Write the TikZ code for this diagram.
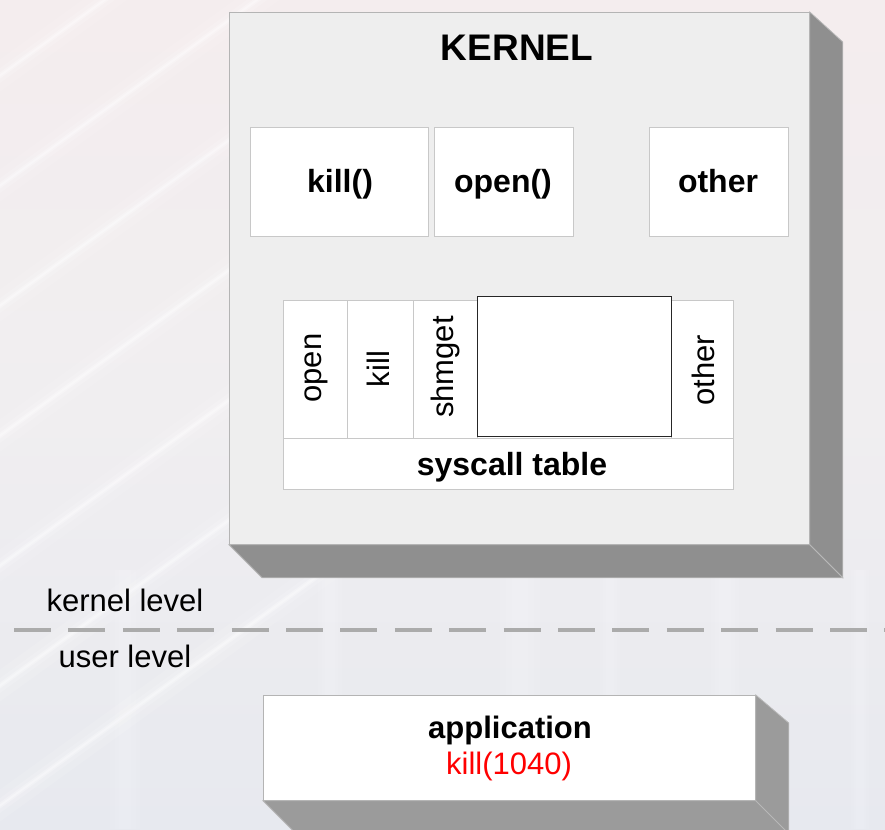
\documentclass[tikz,border=0pt]{standalone}
\usepackage{fontspec}
\setmainfont{Liberation Sans}
\usetikzlibrary{calc}
\definecolor{bgtop}{HTML}{F4EDEE}
\definecolor{bgmid}{HTML}{F0EEF0}
\definecolor{bgbot}{HTML}{E7E9EF}
\definecolor{kface}{HTML}{EEEEEE}
\definecolor{kedge}{HTML}{B4B4B4}
\definecolor{kside}{HTML}{8F8F8F}
\definecolor{aside}{HTML}{9B9B9B}
\definecolor{sideedge}{HTML}{B8B8B8}
\definecolor{cellline}{HTML}{C8C8C8}
\definecolor{dashgray}{HTML}{ABABAB}
\begin{document}
\begin{tikzpicture}[x=1pt,y=-1pt,
  box/.style={draw=kedge,line width=0.8pt,inner sep=0pt,anchor=north west},
  cell/.style={draw=cellline,fill=white,line width=0.8pt,inner sep=0pt,anchor=north west},
  sidekernel/.style={fill=kside,draw=sideedge,line width=0.8pt,line join=miter},
  sideapp/.style={fill=aside,draw=sideedge,line width=0.8pt,line join=miter},
  bigtitle/.style={font=\fontsize{37}{42}\selectfont\bfseries,anchor=base},
  boxlabel/.style={font=\fontsize{32}{38}\selectfont\bfseries,anchor=base},
  vlabel/.style={font=\fontsize{31}{36}\selectfont,rotate=90},
  plain/.style={font=\fontsize{31}{36}\selectfont,anchor=base},
  streak/.style={line cap=round,draw=white}
]
% page and background
\useasboundingbox (0,0) rectangle (885,829);
\shade[top color=bgtop,bottom color=bgbot,middle color=bgmid] (0,0) rectangle (885,829);
% soft diagonal light streaks
\begin{scope}
  \clip (0,0) rectangle (885,829);
  \foreach \b in {90, 200, 320, 450, 580, 700, 820}{
    \draw[streak,line width=26pt,opacity=0.10] (-20,\b) -- ++(360,-260);
    \draw[streak,line width=12pt,opacity=0.15] (-20,\b) -- ++(360,-260);
    \draw[streak,line width=5pt,opacity=0.25] (-20,\b) -- ++(360,-260);
    \draw[streak,line width=2pt,opacity=0.3] (-20,\b) -- ++(360,-260);
  }
\end{scope}
% faint vertical light bands below the kernel
\foreach \xx/\w in {125/30, 330/24, 520/40, 610/20, 725/28, 860/18}{
  \foreach \f in {1,0.7,0.4}{
    \fill[white,opacity=0.08] (\xx-\f*\w/2,570) rectangle (\xx+\f*\w/2,829);
  }
}

% kernel block with its depth
\node[box,fill=kface,minimum width=580pt,minimum height=532pt] (kernel) at (229,12) {};
\draw[sidekernel] (kernel.north east) -- ++(33,30) -- ($(kernel.south east)+(33,33)$) -- (kernel.south east) -- cycle;
\draw[sidekernel] (kernel.south west) -- (kernel.south east) -- ++(33,33) -- ($(kernel.south west)+(33,33)$) -- cycle;
\node[bigtitle] (ktitle) at (517,61) {KERNEL};

% handler boxes
\node[cell,minimum width=178pt,minimum height=109pt] (hkill) at (250,127) {};
\node[cell,minimum width=139pt,minimum height=109pt] (hopen) at (434,127) {};
\node[cell,minimum width=139pt,minimum height=109pt] (hother) at (649,127) {};
\node[boxlabel] (lkill) at (340,193) {kill()};
\node[boxlabel] (lopen) at (503,193) {open()};
\node[boxlabel] (lother) at (718,192) {other};

% syscall table
\node[cell,minimum width=64pt,minimum height=138pt] (topen) at (283,300) {};
\node[cell,minimum width=66pt,minimum height=138pt] (tkill) at (347,300) {};
\node[cell,minimum width=64pt,minimum height=138pt] (tshm) at (413,300) {};
\node[cell,minimum width=194pt,minimum height=138pt] (tgap) at (477,300) {};
\node[cell,minimum width=62pt,minimum height=138pt] (tother) at (671,300) {};
\node[cell,minimum width=450pt,minimum height=51pt] (trow) at (283,438) {};
\node[draw=black!85,fill=white,line width=0.8pt,inner sep=0pt,anchor=north west,
      minimum width=194pt,minimum height=140pt] (tslot) at (477,296) {};
\node[vlabel] (vopen) at (316,368) {open};
\node[vlabel] (vkill) at (378,369) {kill};
\node[vlabel] (vshm) at (445,367) {shmget};
\node[vlabel] (vother) at (703,370) {other};
\node[boxlabel] (tname) at (512,475) {syscall table};

% privilege boundary
\coordinate (bl) at (14,630);
\coordinate (br) at (885,630);
\draw[dashgray,line width=4pt,dash pattern=on 37pt off 17.4pt] (bl) -- (br);
\node[plain,anchor=base west] (klevel) at (43,611) {kernel level};
\node[plain,anchor=base west] (ulevel) at (55,667) {user level};

% application block with its depth
\begin{scope}
  \clip (0,0) rectangle (885,829);
  \node[box,draw=kedge,fill=white,minimum width=492pt,minimum height=105pt] (app) at (263,695) {};
  \draw[sideapp] (app.north east) -- ++(33,28) -- ++(0,120) -- (app.south east) -- cycle;
  \draw[sideapp] (app.south west) -- (app.south east) -- ++(33,33) -- ($(app.south west)+(33,33)$) -- cycle;
\end{scope}
\node[boxlabel,font=\fontsize{31}{36}\selectfont\bfseries] (appname) at (510,738) {application};
\node[plain,text=red] (appcall) at (509,774) {kill(1040)};
\end{tikzpicture}
\end{document}
